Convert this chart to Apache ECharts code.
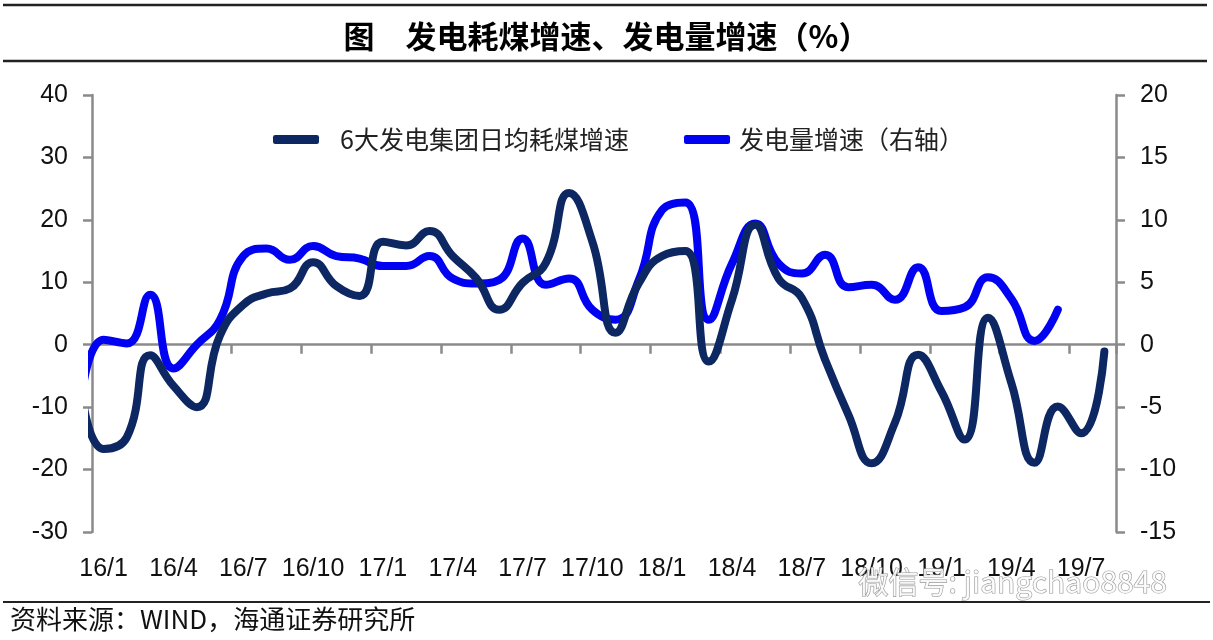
<!DOCTYPE html>
<html>
<head>
<meta charset="utf-8">
<script src="https://cdn.jsdelivr.net/npm/echarts@6/dist/echarts.min.js"></script>
<style>
html,body{margin:0;padding:0;background:#fff;}
#chart{width:1213px;height:640px;}
</style>
</head>
<body>
<div id="chart"></div>
<script>
// Axis categories (monthly) and tick labels
var categories = ['16/1','16/2','16/3','16/4','16/5','16/6','16/7','16/8','16/9','16/10','16/11','16/12',
  '17/1','17/2','17/3','17/4','17/5','17/6','17/7','17/8','17/9','17/10','17/11','17/12',
  '18/1','18/2','18/3','18/4','18/5','18/6','18/7','18/8','18/9','18/10','18/11','18/12',
  '19/1','19/2','19/3','19/4','19/5','19/6','19/7','19/8'];
// Data months: 15/12 (partly visible at left edge) through 19/8
var coalMonths = ['15/12'].concat(categories);
// 6大发电集团日均耗煤增速 (%), left axis, 15/12 .. 19/8
var coalGrowth = [-6, -16.7, -14.8, -1.7, -6.6, -10.0, 1.5, 6.4, 8.2, 9.0, 13.2, 9.4, 7.8,
  16.5, 15.9, 18.2, 14.2, 10.7, 5.6, 9.9, 13.1, 24.3, 16.5, 1.9, 9.9,
  14.2, 15.0, -2.7, 7.2, 19.2, 10.6, 7.5, -2.4, -11.2, -19.0, -12.5,
  -1.6, -7.5, -15.2, 4.3, -6.1, -18.9, -9.9, -14.2, -1.1];
// 发电量增速 (%), right axis, 15/12 .. 19/6
var powerGrowth = [-5, 0.4, 0.1, 4.0, -1.9, 0.0, 2.0, 7.1, 7.7, 6.8, 7.9, 7.1, 6.9,
  6.3, 6.3, 7.1, 5.3, 4.9, 5.2, 8.5, 4.8, 5.3, 2.8, 2.0, 5.2,
  10.8, 11.4, 2.0, 6.5, 9.7, 6.5, 5.7, 7.2, 4.6, 4.8, 3.6,
  6.2, 2.7, 3.0, 5.4, 3.7, 0.3, 2.8];
var leftTicks = {min: -30, max: 40, interval: 10};
var rightTicks = {min: -15, max: 20, interval: 5};
var seriesNames = ['6大发电集团日均耗煤增速', '发电量增速（右轴）'];

function toPairs(arr) {
  // month offset relative to 16/1 (index 0)
  return arr.map(function (v, i) { return [i - 1, v]; });
}

var chart = echarts.init(document.getElementById('chart'), null, {renderer: 'canvas'});
var axisGray = '#8a8a8a';
var labelFont = {fontFamily: 'Liberation Sans, Arial, sans-serif', fontSize: 25, color: '#111'};
var cjk = '"Noto Sans CJK SC", sans-serif';

chart.setOption({
  backgroundColor: '#fff',
  animation: false,
  title: {
    text: '图　发电耗煤增速、发电量增速（%）',
    left: 'center', top: 16,
    textStyle: {fontFamily: cjk, fontSize: 31, fontWeight: 'bold', color: '#000'}
  },
  legend: [{
    data: [seriesNames[0]], left: 268, top: 122,
    itemWidth: 46, itemHeight: 9, icon: 'roundRect',
    textStyle: {fontFamily: cjk, fontSize: 25, color: '#222', padding: [0, 0, 0, 16]}
  }, {
    data: [seriesNames[1]], left: 679, top: 122,
    itemWidth: 46, itemHeight: 9, icon: 'roundRect',
    textStyle: {fontFamily: cjk, fontSize: 25, color: '#222', padding: [0, 0, 0, 4]}
  }],
  grid: {left: 92, right: 97, top: 95, bottom: 108, containLabel: false},
  xAxis: [{
    type: 'category', data: categories, position: 'bottom', boundaryGap: true,
    axisLine: {onZero: true, lineStyle: {color: axisGray, width: 2.5}},
    axisTick: {show: true, interval: 2, length: 9, lineStyle: {color: axisGray, width: 2.5}},
    axisLabel: {show: false}, splitLine: {show: false}
  }, {
    type: 'category', data: categories, position: 'bottom', boundaryGap: true,
    axisLine: {show: false, onZero: false}, axisTick: {show: false},
    axisLabel: Object.assign({interval: 2, margin: 25}, labelFont), splitLine: {show: false}
  }, {
    type: 'value', min: -0.5, max: 43.5, show: false, position: 'top',
    axisLine: {onZero: false}, splitLine: {show: false}
  }],
  yAxis: [{
    type: 'value', position: 'left', min: leftTicks.min, max: leftTicks.max, interval: leftTicks.interval,
    axisLine: {show: true, onZero: false, lineStyle: {color: axisGray, width: 2.5}},
    axisTick: {show: true, length: 9, lineStyle: {color: axisGray, width: 2.5}},
    axisLabel: Object.assign({margin: 24}, labelFont),
    splitLine: {show: false}
  }, {
    type: 'value', position: 'right', min: rightTicks.min, max: rightTicks.max, interval: rightTicks.interval,
    axisLine: {show: true, onZero: false, lineStyle: {color: axisGray, width: 2.5}},
    axisTick: {show: true, length: 9, lineStyle: {color: axisGray, width: 2.5}},
    axisLabel: Object.assign({margin: 24}, labelFont),
    splitLine: {show: false}
  }],
  series: [{
    name: seriesNames[0], type: 'line', xAxisIndex: 2, yAxisIndex: 0,
    data: toPairs(coalGrowth), smooth: 0.5, showSymbol: false, symbol: 'none', clip: true,
    lineStyle: {color: '#0d2762', width: 8, cap: 'round', join: 'round'},
    itemStyle: {color: '#0d2762'}, z: 3
  }, {
    name: seriesNames[1], type: 'line', xAxisIndex: 2, yAxisIndex: 1,
    data: toPairs(powerGrowth), smooth: 0.5, showSymbol: false, symbol: 'none', clip: true,
    lineStyle: {color: '#0202f2', width: 8, cap: 'round', join: 'round'},
    itemStyle: {color: '#0202f2'}, z: 2
  }],
  graphic: [
    {type: 'line', shape: {x1: 3, y1: 5, x2: 1207, y2: 5}, style: {stroke: '#222', lineWidth: 2.5}},
    {type: 'line', shape: {x1: 3, y1: 61, x2: 1207, y2: 61}, style: {stroke: '#222', lineWidth: 2.5}},
    {type: 'line', shape: {x1: 3, y1: 602, x2: 1210, y2: 602}, style: {stroke: '#222', lineWidth: 2}},
    {type: 'text', left: 10, top: 606,
      style: {text: '资料来源：WIND，海通证券研究所', font: '26px "Noto Sans CJK SC", sans-serif', fill: '#111'}},
    {type: 'text', left: 858, top: 566, z: 10,
      style: {text: '微信号: jiangchao8848', font: '30px "Noto Sans CJK SC", sans-serif',
        fill: 'rgba(255,255,255,0.85)', stroke: '#9a9a9a', lineWidth: 1.2}}
  ]
});
</script>
</body>
</html>
